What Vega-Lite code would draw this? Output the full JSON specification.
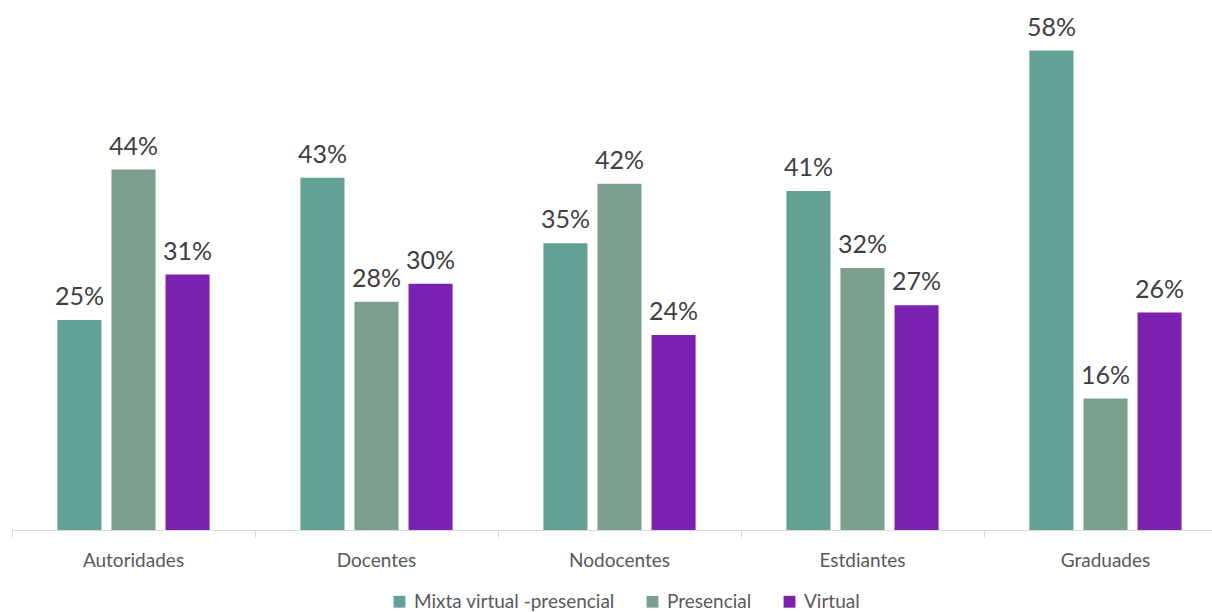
{
  "$schema": "https://vega.github.io/schema/vega-lite/v6.json",
  "width": 1215,
  "height": 496,
  "padding": {"left": 12, "top": 34, "right": 0, "bottom": 82},
  "autosize": {"type": "none"},
  "background": "white",
  "config": {"view": {"stroke": null}, "font": "Lato"},
  "data": {
    "values": [
      {"grupo": "Autoridades", "modalidad": "Mixta virtual -presencial", "v": 0.254},
      {"grupo": "Autoridades", "modalidad": "Presencial", "v": 0.436},
      {"grupo": "Autoridades", "modalidad": "Virtual", "v": 0.309},
      {"grupo": "Docentes", "modalidad": "Mixta virtual -presencial", "v": 0.426},
      {"grupo": "Docentes", "modalidad": "Presencial", "v": 0.276},
      {"grupo": "Docentes", "modalidad": "Virtual", "v": 0.298},
      {"grupo": "Nodocentes", "modalidad": "Mixta virtual -presencial", "v": 0.347},
      {"grupo": "Nodocentes", "modalidad": "Presencial", "v": 0.419},
      {"grupo": "Nodocentes", "modalidad": "Virtual", "v": 0.236},
      {"grupo": "Estdiantes", "modalidad": "Mixta virtual -presencial", "v": 0.41},
      {"grupo": "Estdiantes", "modalidad": "Presencial", "v": 0.317},
      {"grupo": "Estdiantes", "modalidad": "Virtual", "v": 0.272},
      {"grupo": "Graduades", "modalidad": "Mixta virtual -presencial", "v": 0.58},
      {"grupo": "Graduades", "modalidad": "Presencial", "v": 0.159},
      {"grupo": "Graduades", "modalidad": "Virtual", "v": 0.263}
    ]
  },
  "encoding": {
    "x": {
      "field": "grupo",
      "type": "nominal",
      "sort": null,
      "title": null,
      "scale": {"paddingInner": 0, "paddingOuter": 0},
      "axis": {
        "labelAngle": 0,
        "labelFontSize": 19,
        "labelColor": "#595959",
        "labelPadding": 14,
        "domainColor": "#d9d9d9",
        "tickColor": "#d9d9d9",
        "tickSize": 7,
        "bandPosition": 0,
        "ticks": true
      }
    },
    "xOffset": {
      "field": "modalidad",
      "type": "nominal",
      "sort": null,
      "scale": {"paddingInner": 0.185, "paddingOuter": 0.84}
    },
    "y": {
      "field": "v",
      "type": "quantitative",
      "scale": {"domain": [0, 0.6]},
      "axis": null
    }
  },
  "layer": [
    {
      "mark": {"type": "bar"},
      "encoding": {
        "color": {
          "field": "modalidad",
          "type": "nominal",
          "sort": null,
          "scale": {
            "domain": ["Mixta virtual -presencial", "Presencial", "Virtual"],
            "range": ["#63A195", "#7D9F8D", "#7B22B0"]
          },
          "legend": {
            "title": null,
            "orient": "none",
            "direction": "horizontal",
            "legendX": 378,
            "legendY": 558,
            "symbolType": "square",
            "symbolSize": 140,
            "symbolStrokeWidth": 0,
            "labelFontSize": 19,
            "labelLimit": 400,
            "labelColor": "#595959",
            "columnPadding": 28,
            "labelOffset": 5
          }
        }
      }
    },
    {
      "mark": {"type": "text", "baseline": "alphabetic", "dy": -15, "fontSize": 25, "color": "#404040"},
      "encoding": {
        "text": {"field": "v", "type": "quantitative", "format": ".0%"}
      }
    }
  ]
}
